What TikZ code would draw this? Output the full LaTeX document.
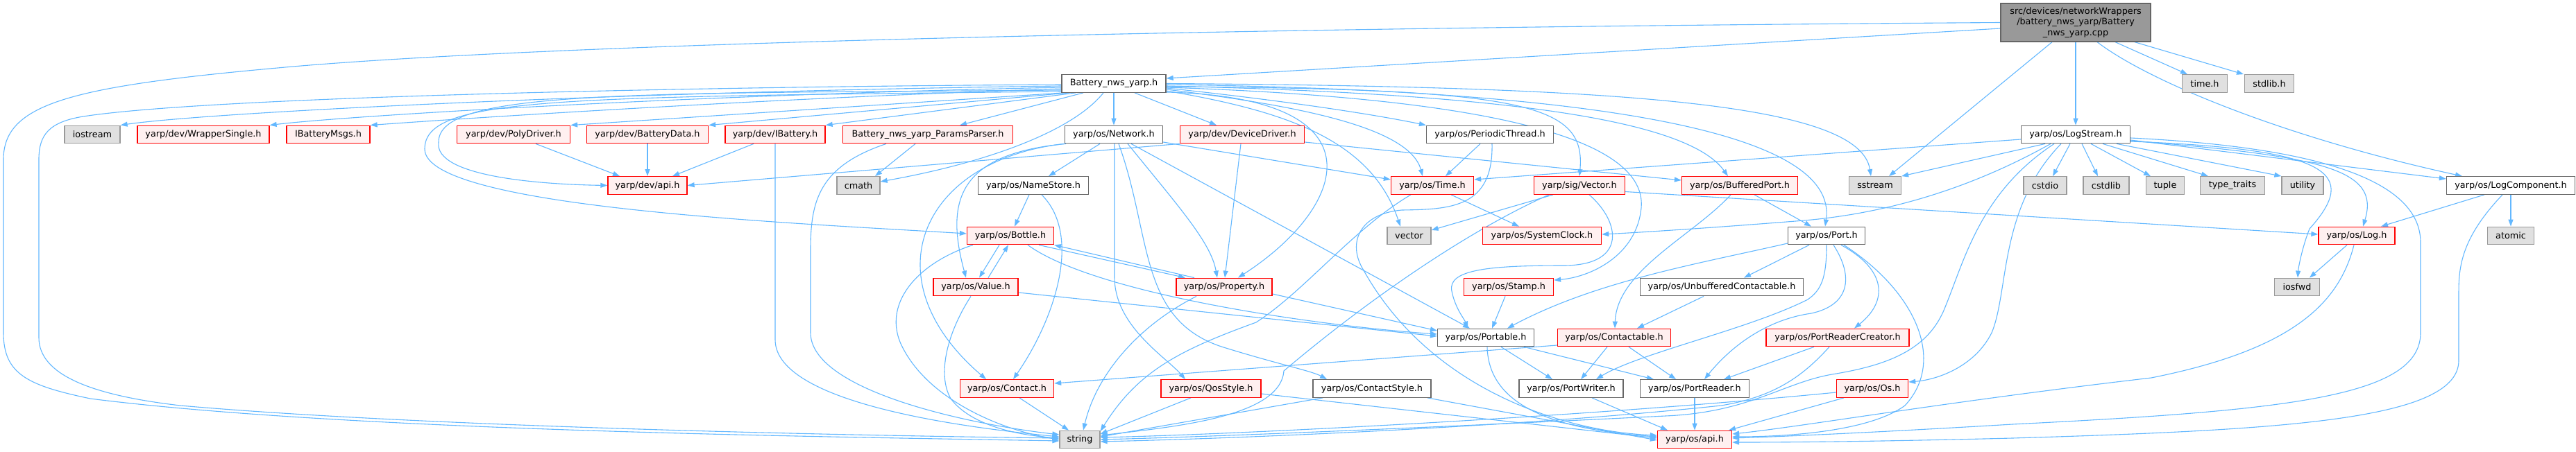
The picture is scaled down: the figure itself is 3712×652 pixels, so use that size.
\documentclass[tikz,border=0pt]{standalone}
\usepackage{fontspec}
\setmainfont{DejaVu Sans}
\usetikzlibrary{arrows.meta}
\definecolor{eblue}{HTML}{63B8FF}
\definecolor{dred}{HTML}{FF0000}
\definecolor{dredfill}{HTML}{FFF0F0}
\definecolor{dgray}{HTML}{999999}
\definecolor{dgrayfill}{HTML}{E0E0E0}
\definecolor{dwhite}{HTML}{666666}
\definecolor{droot}{HTML}{999999}
\pgfdeclarelayer{bg}
\pgfdeclarelayer{edges}
\pgfsetlayers{bg,edges,main}
\begin{document}
\begin{tikzpicture}[x=1pt,y=-1pt,
  nbase/.style={draw, line width=1.3pt, inner sep=0pt, minimum height=25.5pt, font=\fontsize{12.8pt}{15.3pt}\selectfont, anchor=center},
  redn/.style={nbase, draw=dred, fill=dredfill},
  grayn/.style={nbase, draw=dgray, fill=dgrayfill},
  whiten/.style={nbase, draw=dwhite, fill=white},
  rootn/.style={nbase, draw=dwhite, fill=droot, minimum height=55pt, align=center},
  incl/.style={draw=eblue, line width=1.1pt, -{Triangle[length=10pt,width=7pt]}}]
\begin{pgfonlayer}{bg}
\fill[white] (0,0) rectangle (3712,652);
\end{pgfonlayer}
\useasboundingbox (0,0) rectangle (3712,652);
% row 1-2
\node[rootn, minimum width=216pt] (root) at (2991,32.5) {src/devices/networkWrappers\\/battery\_nws\_yarp/Battery\\\_nws\_yarp.cpp};
\node[whiten, minimum width=150pt] (bh) at (1605,120.5) {Battery\_nws\_yarp.h};
\node[grayn, minimum width=65pt] (timeh) at (3177,120.5) {time.h};
\node[grayn, minimum width=71pt] (stdlibh) at (3270,120.5) {stdlib.h};
% row 3
\node[grayn, minimum width=80pt] (iostream) at (133,194) {iostream};
\node[redn, minimum width=190pt] (wrapper) at (293,194) {yarp/dev/WrapperSingle.h};
\node[redn, minimum width=120pt] (ibmsgs) at (473,194) {IBatteryMsgs.h};
\node[redn, minimum width=163pt] (poly) at (740,194) {yarp/dev/PolyDriver.h};
\node[redn, minimum width=175pt] (bdata) at (933,194) {yarp/dev/BatteryData.h};
\node[redn, minimum width=144pt] (ibat) at (1117,194) {yarp/dev/IBattery.h};
\node[redn, minimum width=245pt] (params) at (1337,194) {Battery\_nws\_yarp\_ParamsParser.h};
\node[whiten, minimum width=141pt] (network) at (1605,194) {yarp/os/Network.h};
\node[redn, minimum width=179pt] (ddriver) at (1790,194) {yarp/dev/DeviceDriver.h};
\node[whiten, minimum width=183pt] (periodic) at (2147,194) {yarp/os/PeriodicThread.h};
\node[whiten, minimum width=157pt] (logstream) at (2991,194) {yarp/os/LogStream.h};
% row 4
\node[redn, minimum width=114pt] (devapi) at (933,267.5) {yarp/dev/api.h};
\node[grayn, minimum width=62pt] (cmath) at (1237,267.5) {cmath};
\node[whiten, minimum width=159pt] (namestore) at (1489,267.5) {yarp/os/NameStore.h};
\node[redn, minimum width=119pt] (ostime) at (2064,267.5) {yarp/os/Time.h};
\node[redn, minimum width=131pt] (sigvec) at (2276,267.5) {yarp/sig/Vector.h};
\node[redn, minimum width=167pt] (bufport) at (2507,267.5) {yarp/os/BufferedPort.h};
\node[grayn, minimum width=75pt] (sstream) at (2702,267.5) {sstream};
\node[grayn, minimum width=62pt] (cstdio) at (2947,267.5) {cstdio};
\node[grayn, minimum width=66pt] (cstdlib) at (3035,267.5) {cstdlib};
\node[grayn, minimum width=55pt] (tuple) at (3120,267.5) {tuple};
\node[grayn, minimum width=93pt] (typetraits) at (3217,267.5) {type\_traits};
\node[grayn, minimum width=60pt] (utility) at (3318,267.5) {utility};
\node[whiten, minimum width=185pt] (logcomp) at (3618,267.5) {yarp/os/LogComponent.h};
% row 5
\node[redn, minimum width=125pt] (bottle) at (1456,340) {yarp/os/Bottle.h};
\node[grayn, minimum width=63pt] (vector) at (2030.5,340) {vector};
\node[redn, minimum width=171pt] (sysclock) at (2222,340) {yarp/os/SystemClock.h};
\node[whiten, minimum width=111pt] (port) at (2632,340) {yarp/os/Port.h};
\node[redn, minimum width=110pt] (log) at (3396,340) {yarp/os/Log.h};
\node[grayn, minimum width=67pt] (atomic) at (3618,340) {atomic};
% row 6
\node[redn, minimum width=122pt] (value) at (1406,414) {yarp/os/Value.h};
\node[redn, minimum width=138pt] (property) at (1764,414) {yarp/os/Property.h};
\node[redn, minimum width=129pt] (stamp) at (2174,414) {yarp/os/Stamp.h};
\node[whiten, minimum width=235pt] (unbuf) at (2481,414) {yarp/os/UnbufferedContactable.h};
\node[grayn, minimum width=65pt] (iosfwd) at (3310,414) {iosfwd};
% row 7
\node[whiten, minimum width=139pt] (portable) at (2141,487) {yarp/os/Portable.h};
\node[redn, minimum width=163pt] (contactable) at (2326,487) {yarp/os/Contactable.h};
\node[redn, minimum width=206pt] (prcreator) at (2648,487) {yarp/os/PortReaderCreator.h};
% row 8
\node[redn, minimum width=135pt] (contact) at (1451,560.5) {yarp/os/Contact.h};
\node[redn, minimum width=144pt] (qos) at (1745,560.5) {yarp/os/QosStyle.h};
\node[whiten, minimum width=170pt] (cstyle) at (1977,560.5) {yarp/os/ContactStyle.h};
\node[whiten, minimum width=150pt] (pwriter) at (2264,560.5) {yarp/os/PortWriter.h};
\node[whiten, minimum width=157pt] (preader) at (2442,560.5) {yarp/os/PortReader.h};
\node[redn, minimum width=103pt] (osh) at (2698,560.5) {yarp/os/Os.h};
% row 9
\node[grayn, minimum width=58pt] (string) at (1556,634) {string};
\node[redn, minimum width=107pt] (osapi) at (2442,634) {yarp/os/api.h};

\begin{pgfonlayer}{edges}
% root
\draw[incl] ([yshift=-8.5pt]root.west) -- ([yshift=7.5pt]bh.east);
\draw[incl] (root.west) .. controls (1500,42) and (700,70) .. (400,98) .. controls (100,125) and (5,150) .. (5,230) -- (5,480) .. controls (5,540) and (40,556) .. (130,575) .. controls (500,622) and (1200,630) .. ([yshift=-2pt]string.west);
\draw[incl] ([xshift=-34pt]root.south) -- ([xshift=20pt]sstream.north);
\draw[incl] (root.south) -- (logstream.north);
\draw[incl] ([xshift=31pt]root.south) .. controls (3100,120) and (3300,200) .. ([xshift=-70pt]logcomp.north);
\draw[incl] ([xshift=57pt]root.south) -- ([xshift=-25pt]timeh.north);
\draw[incl] ([xshift=85pt]root.south) -- ([xshift=-37pt]stdlibh.north);
% Battery_nws_yarp.h
\draw[incl] ([yshift=-3.5pt]bh.west) .. controls (900,132) and (300,162) .. (iostream.north east);
\draw[incl] ([yshift=-5.5pt]bh.west) .. controls (1000,137) and (500,167) .. (wrapper.north east);
\draw[incl] ([yshift=-7.5pt]bh.west) .. controls (1100,142) and (650,172) .. (ibmsgs.north east);
\draw[incl] ([xshift=-73pt]bh.south) -- (poly.north east);
\draw[incl] ([xshift=-65pt]bh.south) -- (bdata.north east);
\draw[incl] ([xshift=-55pt]bh.south) -- (ibat.north east);
\draw[incl] ([xshift=-44pt]bh.south) -- ([xshift=46pt]params.north);
\draw[incl] (bh.south) -- (network.north);
\draw[incl] ([xshift=30pt]bh.south) -- ([xshift=-37pt]ddriver.north);
\draw[incl] ([xshift=-15pt]bh.south) .. controls (1545,190) and (1420,235) .. ([yshift=5.5pt]cmath.east);
\draw[incl] ([yshift=-9.5pt]bh.west) .. controls (900,135) and (632,130) .. (632,205) .. controls (625,255) and (780,266) .. (devapi.west);
\draw[incl] ([yshift=-11.5pt]bh.west) .. controls (800,140) and (612,140) .. (612,215) .. controls (612,300) and (1150,322) .. ([yshift=3pt]bottle.west);
\draw[incl] ([yshift=-1.5pt]bh.west) .. controls (1000,125) and (300,140) .. (120,168) .. controls (70,176) and (56,195) .. (56,230) -- (56,487) .. controls (56,540) and (130,570) .. (260,585) .. controls (600,615) and (1200,628) .. ([yshift=2pt]string.west);
\draw[incl] ([yshift=-6.5pt]bh.east) .. controls (1850,145) and (1980,165) .. (periodic.north west);
\draw[incl] ([yshift=-8.5pt]bh.east) .. controls (1850,150) and (2030,180) .. ([xshift=-14pt]ostime.north);
\draw[incl] ([yshift=-10.5pt]bh.east) .. controls (1850,160) and (1975,200) .. ([xshift=-12.5pt]vector.north);
\draw[incl] ([yshift=-12.5pt]bh.east) .. controls (2000,140) and (1940,300) .. ([xshift=20pt]property.north);
\draw[incl] ([yshift=-4.5pt]bh.east) .. controls (2200,128) and (2285,150) .. (sigvec.north);
\draw[incl] ([yshift=-5.5pt]bh.east) .. controls (2100,140) and (2375,190) .. (2365,300) .. controls (2358,370) and (2290,400) .. ([yshift=10pt]stamp.east);
\draw[incl] ([yshift=-3.5pt]bh.east) .. controls (2150,135) and (2430,170) .. ([xshift=-17pt]bufport.north);
\draw[incl] ([yshift=-1.5pt]bh.east) .. controls (2300,130) and (2650,190) .. ([xshift=-2pt]port.north);
\draw[incl] (bh.east) .. controls (2350,125) and (2680,150) .. ([xshift=-6pt]sstream.north);
% Network.h
\draw[incl] ([xshift=-20pt]network.south) -- ([xshift=22pt]namestore.north);
\draw[incl] ([xshift=-69pt]network.south) .. controls (1380,222) and (1362,290) .. ([xshift=-14pt]value.north);
\draw[incl] (network.south west) .. controls (1330,230) and (1250,400) .. ([xshift=-30pt]contact.north);
\draw[incl] ([xshift=1pt]network.south) -- (1606,400) .. controls (1606,470) and (1680,515) .. ([xshift=-37pt]qos.north);
\draw[incl] ([xshift=7pt]network.south) .. controls (1660,340) and (1640,460) .. (1760,500) .. controls (1840,525) and (1890,535) .. ([xshift=-65pt]cstyle.north);
\draw[incl] ([xshift=20pt]network.south) .. controls (1700,300) and (1745,350) .. ([xshift=-10pt]property.north);
\draw[incl] ([xshift=25pt]network.south) -- ([xshift=-23pt]portable.north);
\draw[incl] ([yshift=-11pt]network.east) -- ([yshift=8.5pt]ostime.west);
% DeviceDriver.h
\draw[incl] ([xshift=-2pt]ddriver.south) -- ([xshift=1pt]property.north);
\draw[incl] (ddriver.south west) -- (devapi.east);
\draw[incl] ([yshift=-11pt]ddriver.east) -- ([yshift=7.5pt]bufport.west);
% ParamsParser, IBattery, PolyDriver, BatteryData
\draw[incl] ([xshift=-18pt]params.south) -- ([xshift=24pt]cmath.north);
\draw[incl] ([xshift=-60pt]params.south) .. controls (1180,240) and (1168,290) .. (1168,360) -- (1168,480) .. controls (1168,560) and (1380,610) .. ([yshift=7pt]string.west);
\draw[incl] ([xshift=-31pt]ibat.south) -- ([xshift=36pt]devapi.north);
\draw[incl] (ibat.south) -- (1117,490) .. controls (1117,565) and (1300,608) .. ([yshift=4pt]string.west);
\draw[incl] ([xshift=32pt]poly.south) -- ([xshift=-40pt]devapi.north);
\draw[incl] (bdata.south) -- (devapi.north);
% NameStore.h
\draw[incl] ([xshift=-6pt]namestore.south) -- ([xshift=6pt]bottle.north);
\draw[incl] ([xshift=12pt]namestore.south) .. controls (1560,340) and (1520,460) .. ([xshift=9pt]contact.north);
% Time.h, PeriodicThread.h
\draw[incl] ([xshift=27pt]ostime.south) -- ([xshift=-33pt]sysclock.north);
\draw[incl] ([xshift=-31pt]ostime.south) .. controls (1950,330) and (1880,420) .. (1810,465) .. controls (1700,505) and (1640,535) .. ([yshift=12pt]string.east);
\draw[incl] ([xshift=-14pt]periodic.south) -- ([xshift=19pt]ostime.north);
\draw[incl] ([xshift=3pt]periodic.south) .. controls (2152,300) and (2090,302) .. (2020,303) .. controls (1960,308) and (1940,350) .. (1965,390) .. controls (2060,560) and (2250,622) .. ([yshift=6pt]osapi.west);
% LogStream.h
\draw[incl] ([yshift=-7pt]logstream.west) -- ([yshift=8.5pt]ostime.east);
\draw[incl] ([xshift=-44pt]logstream.south) -- (sstream.north east);
\draw[incl] ([xshift=-36pt]logstream.south) .. controls (2870,255) and (2750,305) .. (2600,318) .. controls (2450,330) and (2350,336) .. ([yshift=2pt]sysclock.east);
\draw[incl] ([xshift=-31pt]logstream.south) .. controls (2850,280) and (2830,380) .. (2800,450) .. controls (2775,505) and (2720,527) .. (2640,540) .. controls (2570,552) and (2520,595) .. (2400,600) .. controls (2100,615) and (1750,630) .. (string.east);
\draw[incl] ([xshift=-21pt]logstream.south) .. controls (2880,300) and (2895,420) .. (2870,480) .. controls (2845,530) and (2790,548) .. ([yshift=9.5pt]osh.east);
\draw[incl] ([xshift=-8pt]logstream.south) -- ([xshift=11pt]cstdio.north);
\draw[incl] ([xshift=9pt]logstream.south) -- ([xshift=-12pt]cstdlib.north);
\draw[incl] ([xshift=22pt]logstream.south) -- ([xshift=-21pt]tuple.north);
\draw[incl] ([xshift=39pt]logstream.south) -- ([xshift=-35pt]typetraits.north);
\draw[incl] ([xshift=59pt]logstream.south) -- (utility.north west);
\draw[incl] ([yshift=-8pt]logstream.east) -- ([yshift=9.5pt]logcomp.west);
\draw[incl] ([yshift=-9pt]logstream.east) .. controls (3350,225) and (3430,245) .. ([xshift=9pt]log.north);
\draw[incl] ([yshift=-10pt]logstream.east) .. controls (3360,215) and (3400,250) .. (3328,330) .. controls (3318,355) and (3312,385) .. ([xshift=1pt]iosfwd.north);
\draw[incl] ([yshift=-5pt]logstream.east) .. controls (3400,215) and (3488,280) .. (3488,350) -- (3488,480) .. controls (3488,572) and (3300,592) .. (2900,612) .. controls (2700,624) and (2560,630) .. ([yshift=2pt]osapi.east);
% Log.h, LogComponent.h
\draw[incl] ([xshift=-14pt]log.south) -- ([xshift=18pt]iosfwd.north);
\draw[incl] ([xshift=-4pt]log.south) .. controls (3370,440) and (3300,505) .. (3100,545) .. controls (2800,580) and (2600,615) .. ([yshift=8pt]osapi.east);
\draw[incl] ([xshift=-38pt]logcomp.south) -- ([xshift=35pt]log.north);
\draw[incl] (logcomp.south) -- (atomic.north);
\draw[incl] ([xshift=-12pt]logcomp.south) .. controls (3550,340) and (3543,380) .. (3543,420) -- (3543,520) .. controls (3543,605) and (3300,620) .. (2900,632) .. controls (2700,637) and (2580,638) .. ([yshift=-4pt]osapi.east);
% Vector.h
\draw[incl] ([xshift=-38pt]sigvec.south) -- ([yshift=8pt]vector.east);
\draw[incl] ([yshift=-9pt]sigvec.east) -- ([yshift=2pt]log.west);
\draw[incl] ([xshift=-44pt]sigvec.south) .. controls (2100,340) and (1950,450) .. (1850,535) .. controls (1845,600) and (1700,615) .. ([yshift=6pt]string.east);
\draw[incl] ([xshift=14pt]sigvec.south) .. controls (2335,320) and (2345,382) .. (2255,383) .. controls (2150,383) and (2085,388) .. (2092,420) .. controls (2097,445) and (2110,460) .. ([xshift=-26pt]portable.north);
% BufferedPort.h
\draw[incl] ([xshift=21pt]bufport.south) -- ([xshift=-22pt]port.north);
\draw[incl] ([xshift=-13pt]bufport.south) .. controls (2440,340) and (2330,390) .. ([xshift=1pt]contactable.north);
% Port.h
\draw[incl] ([yshift=-11pt]port.west) .. controls (2450,380) and (2300,405) .. ([xshift=31pt]portable.north);
\draw[incl] ([xshift=-25pt]port.south) -- ([xshift=32pt]unbuf.north);
\draw[incl] (port.south) .. controls (2632,400) and (2625,418) .. (2605,432) .. controls (2520,475) and (2360,510) .. ([xshift=36pt]pwriter.north);
\draw[incl] ([xshift=10pt]port.south) .. controls (2672,400) and (2665,440) .. (2610,452) .. controls (2540,462) and (2490,505) .. ([xshift=14pt]preader.north);
\draw[incl] ([xshift=21pt]port.south) .. controls (2720,390) and (2720,435) .. ([xshift=24pt]prcreator.north);
\draw[incl] ([xshift=25pt]port.south) .. controls (2760,420) and (2805,520) .. (2745,585) .. controls (2690,625) and (2560,630) .. ([yshift=4pt]osapi.east);
% Stamp, Unbuffered
\draw[incl] ([xshift=-5pt]stamp.south) -- ([xshift=9pt]portable.north);
\draw[incl] ([xshift=-26pt]unbuf.south) -- ([xshift=33pt]contactable.north);
% Portable.h
\draw[incl] ([xshift=2pt]portable.south) .. controls (2145,590) and (2250,620) .. ([yshift=4pt]osapi.west);
\draw[incl] ([xshift=22pt]portable.south) -- ([xshift=-27pt]pwriter.north);
\draw[incl] ([xshift=55pt]portable.south) -- ([xshift=-59pt]preader.north);
% Contactable.h
\draw[incl] ([yshift=-11pt]contactable.west) -- ([yshift=7.5pt]contact.east);
\draw[incl] ([xshift=-10pt]contactable.south) -- ([xshift=14pt]pwriter.north);
\draw[incl] ([xshift=21pt]contactable.south) -- ([xshift=-27pt]preader.north);
% PortReaderCreator.h
\draw[incl] ([xshift=-34pt]prcreator.south) -- ([xshift=42pt]preader.north);
\draw[incl] ([xshift=-12pt]prcreator.south) .. controls (2600,540) and (2560,572) .. (2480,585) .. controls (2200,615) and (1800,632) .. ([yshift=-3pt]string.east);
% Os.h
\draw[incl] ([xshift=-41pt]osh.south) -- ([xshift=49pt]osapi.north);
\draw[incl] ([yshift=-5.5pt]osh.west) .. controls (2300,600) and (1800,626) .. ([yshift=3pt]string.east);
% PortWriter, PortReader
\draw[incl] ([xshift=30pt]pwriter.south) -- ([xshift=-39pt]osapi.north);
\draw[incl] (preader.south) -- (osapi.north);
% QosStyle, ContactStyle, Contact
\draw[incl] ([xshift=-29pt]qos.south) -- ([yshift=8pt]string.east);
\draw[incl] ([yshift=-7.5pt]qos.east) -- ([yshift=2pt]osapi.west);
\draw[incl] ([xshift=-71pt]cstyle.south) -- ([yshift=4pt]string.east);
\draw[incl] ([xshift=80pt]cstyle.south) -- ([yshift=-1pt]osapi.west);
\draw[incl] ([xshift=18pt]contact.south) -- ([xshift=-16pt]string.north);
% Bottle, Value, Property
\draw[incl] ([xshift=-16pt]bottle.south) -- ([xshift=5pt]value.north);
\draw[incl] ([xshift=18pt]value.north) -- ([xshift=-3pt]bottle.south);
\draw[incl] ([xshift=41pt]bottle.south) -- ([xshift=-56pt]property.north);
\draw[incl] ([xshift=-43pt]property.north) -- (bottle.south east);
\draw[incl] ([xshift=25pt]bottle.south) .. controls (1580,425) and (1900,470) .. ([yshift=5pt]portable.west);
\draw[incl] ([xshift=-54pt]bottle.south) .. controls (1320,380) and (1270,440) .. (1300,500) .. controls (1340,580) and (1450,622) .. (string.west);
\draw[incl] ([yshift=-8pt]value.east) -- ([yshift=2pt]portable.west);
\draw[incl] ([xshift=-7pt]value.south) .. controls (1365,480) and (1350,540) .. (1370,575) .. controls (1400,615) and (1470,628) .. ([yshift=2pt]string.west);
\draw[incl] ([yshift=-10pt]property.east) -- ([yshift=10pt]portable.west);
\draw[incl] ([xshift=-40pt]property.south) .. controls (1640,470) and (1580,540) .. ([xshift=5pt]string.north);
\end{pgfonlayer}
\end{tikzpicture}
\end{document}
